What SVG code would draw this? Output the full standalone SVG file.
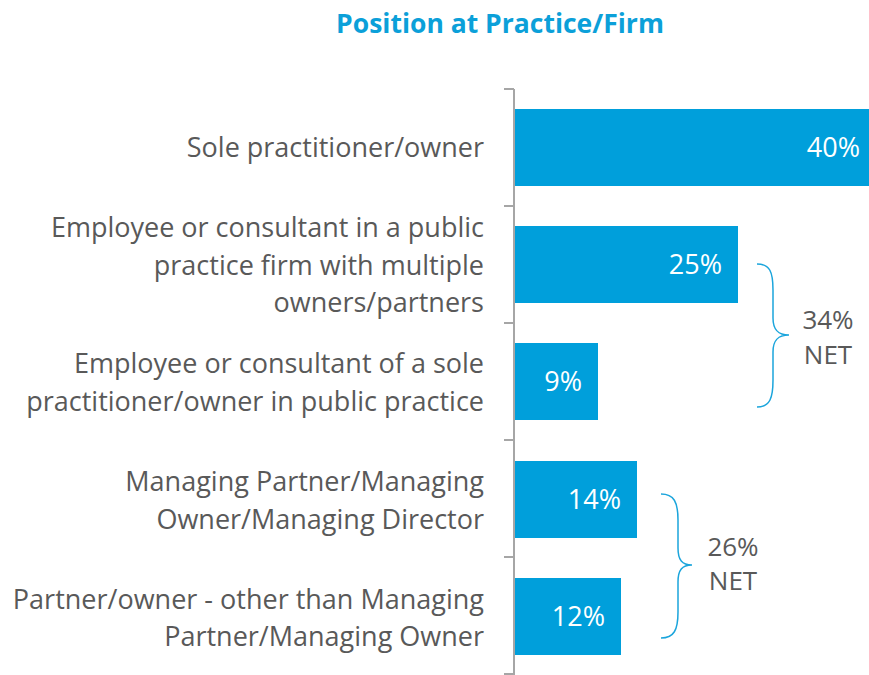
<svg xmlns="http://www.w3.org/2000/svg" width="869" height="675" viewBox="0 0 869 675">
<style>
.lbl{font-family:"Open Sans","Liberation Sans",sans-serif;font-size:27px;fill:#595959;text-anchor:end}
.val{font-family:"Open Sans","Liberation Sans",sans-serif;font-size:27px;fill:#ffffff;text-anchor:end}
.net{font-family:"Open Sans","Liberation Sans",sans-serif;font-size:26px;fill:#595959;text-anchor:middle}
.bar{fill:#009fdb}
.axis{stroke:#a6a6a6;stroke-width:2;fill:none}
.brace{stroke:#1ba5dc;stroke-width:1.5;fill:none}
</style>
<rect width="869" height="675" fill="#ffffff"/>
<text x="500" y="33" font-family="'Open Sans','Liberation Sans',sans-serif" font-weight="bold" font-size="26.5" fill="#0ba0d9" text-anchor="middle">Position at Practice/Firm</text>
<g id="axis">
<path class="axis" d="M514,89V675M504,89H514M504,206H514M504,323H514M504,440H514M504,557H514M504,674H514"/>
</g>
<g id="cat1">
<text class="lbl" x="484" y="157">Sole practitioner/owner</text>
<rect class="bar" x="515" y="109" width="354" height="77"/>
<text class="val" x="860" y="157">40%</text>
</g>
<g id="cat2">
<text class="lbl" x="484" y="237">Employee or consultant in a public</text>
<text class="lbl" x="484" y="275">practice firm with multiple</text>
<text class="lbl" x="484" y="312">owners/partners</text>
<rect class="bar" x="515" y="226" width="223" height="77"/>
<text class="val" x="722" y="274">25%</text>
</g>
<g id="cat3">
<text class="lbl" x="484" y="373">Employee or consultant of a sole</text>
<text class="lbl" x="484" y="411">practitioner/owner in public practice</text>
<rect class="bar" x="515" y="343" width="83" height="77"/>
<text class="val" x="582" y="391">9%</text>
</g>
<g id="cat4">
<text class="lbl" x="484" y="491">Managing Partner/Managing</text>
<text class="lbl" x="484" y="529">Owner/Managing Director</text>
<rect class="bar" x="515" y="461" width="122" height="77"/>
<text class="val" x="621" y="509">14%</text>
</g>
<g id="cat5">
<text class="lbl" x="484" y="609">Partner/owner - other than Managing</text>
<text class="lbl" x="484" y="646">Partner/Managing Owner</text>
<rect class="bar" x="515" y="578" width="106" height="77"/>
<text class="val" x="605" y="626">12%</text>
</g>
<g id="connectors">
<path class="brace" d="M757,264C770,264 773,272 773,290V318C773,330 778,335 789,335C778,335 773,340 773,352V380C773,398 770,407 757,407"/>
<path class="brace" d="M661,494C674,494 678,502 678,520V548C678,560 682,565 692,565C682,565 678,570 678,582V612C678,630 674,638 661,638"/>
</g>
<g id="net1">
<text class="net" x="828" y="329">34%</text>
<text class="net" x="828" y="364">NET</text>
</g>
<g id="net2">
<text class="net" x="733" y="556">26%</text>
<text class="net" x="733" y="590">NET</text>
</g>
</svg>
